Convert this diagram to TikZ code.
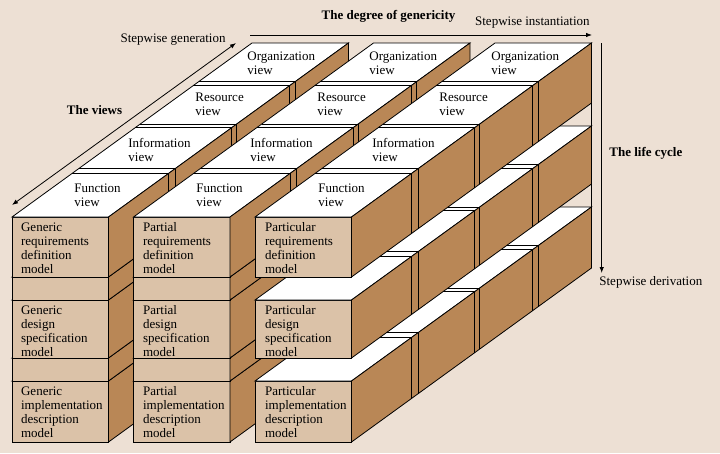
\documentclass[tikz,border=0pt]{standalone}
\usepackage{fontspec}
\setmainfont{Liberation Serif}
\usetikzlibrary{positioning,arrows.meta}

\definecolor{bgbeige}{RGB}{237,224,212}
\definecolor{facetan}{RGB}{219,194,168}
\definecolor{sidebrown}{RGB}{185,135,86}

% one block of the cube: left, right, top, bottom (front plane)
\newcommand{\cimblock}[4]{%
  \filldraw[fill=facetan] (#1,#3,0) rectangle (#2,#4,0);
  \filldraw[fill=white] (#1,#3,0) -- (#2,#3,0) -- (#2,#3,\D) -- (#1,#3,\D) -- cycle;
  \filldraw[fill=sidebrown] (#2,#3,0) -- (#2,#4,0) -- (#2,#4,\D) -- (#2,#3,\D) -- cycle;
  \foreach \d in {60,66.5,123,128,181,186.5}{
    \draw (#1,#3,\d) -- (#2,#3,\d) -- (#2,#4,\d);
  }%
}

\begin{document}
\begin{tikzpicture}[x={(1pt,0pt)},y={(0pt,-1pt)},z={(1pt,0.725pt)},
    line width=0.8pt,>={Latex[length=6pt,width=4.5pt]},
    txt/.style={inner sep=0pt,font=\fontsize{13}{14}\selectfont},
    title/.style={inner sep=0pt,font=\fontsize{13}{15}\selectfont\bfseries},
    toplabel/.style={txt,anchor=west,align=left},
    frontlabel/.style={txt,anchor=north west,align=left}]
  \def\D{240}
  \useasboundingbox (0,0) rectangle (720,453);
  \fill[bgbeige] (0,0) rectangle (720,453);

  % generic and partial: closed columns
  \foreach \cl/\cr in {12/108.5,133.5/230}{
    \foreach \rt/\rb in {381/442,358/381,300/358,277/300,217/277}{
      \cimblock{\cl}{\cr}{\rt}{\rb}
    }
  }
  % particular: open shelves
  \foreach \rt/\rb in {381/442,300/358,217/277}{
    \cimblock{255}{351.5}{\rt}{\rb}
  }
  \draw[line width=1.6pt] (351.5,217,\D) -- (351.5,442,\D);

  % views on top
  \foreach \c in {0,1,2}{
    \foreach \v/\vx/\vy in {Function/74/195,Information/128/150,Resource/195/104.5,Organization/247/63}{
      \node[toplabel] (view-\v-\c) at ({\vx+122*\c},\vy) {\v\\view};
    }
  }
  % models on front
  \foreach \c/\kind in {0/Generic,1/Partial,2/Particular}{
    \foreach \r/\ra/\rb/\rt in {req/requirements/definition/217,des/design/specification/300,imp/implementation/description/381}{
      \node[frontlabel] (model-\r-\c) at ({20.7+122*\c},{\rt+5}) {\kind\\\ra\\\rb\\model};
    }
  }

  % axes
  \coordinate (gen-a) at (12,205);
  \coordinate (gen-b) at (236,43);
  \draw[<->] (gen-a) -- (gen-b);
  \node[txt,anchor=east] (gen-lbl) at (226,40) {Stepwise generation};
  \node[title] (views) at (94.5,110) {The views};

  \coordinate (inst-a) at (250,35);
  \coordinate (inst-b) at (592,35);
  \draw[->] (inst-a) -- (inst-b);
  \node[txt,anchor=south east] (inst-lbl) at (590,29) {Stepwise instantiation};
  \node[title] (genericity) at (388.5,16) {The degree of genericity};

  \coordinate (der-a) at (601.7,43);
  \coordinate (der-b) at (601.7,273);
  \draw[->] (der-a) -- (der-b);
  \node[txt,anchor=north west] (der-lbl) at (599,276) {Stepwise derivation};
  \node[title,anchor=west] (lifecycle) at (609,153) {The life cycle};
\end{tikzpicture}
\end{document}
